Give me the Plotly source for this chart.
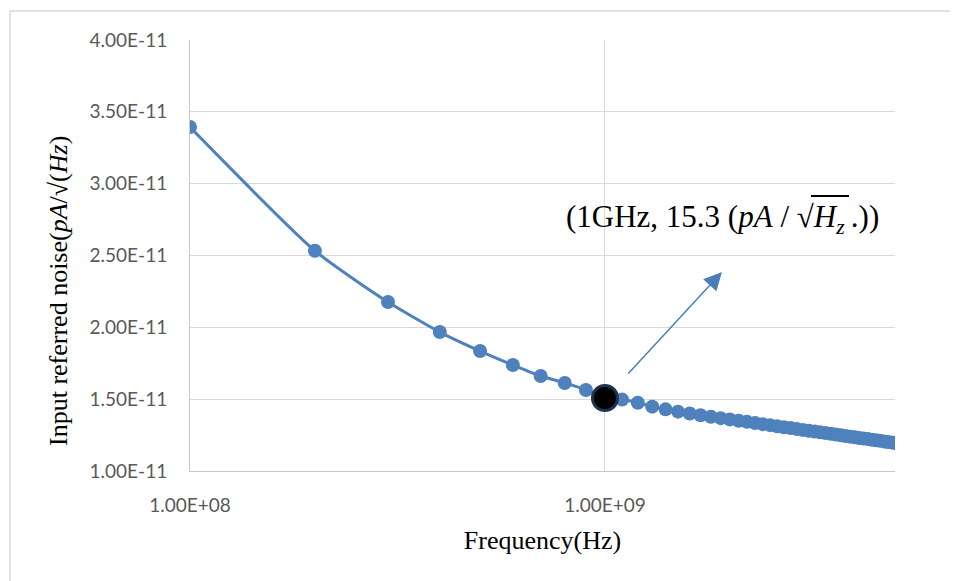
import plotly.graph_objects as go
import math

freq_hz = [1e8, 2e8, 3e8, 4e8, 5e8, 6e8, 7e8, 8e8, 9e8, 1.0e9,
           1.1e9, 1.2e9, 1.3e9, 1.4e9, 1.5e9, 1.6e9, 1.7e9, 1.8e9, 1.9e9, 2.0e9,
           2.1e9, 2.2e9, 2.3e9, 2.4e9, 2.5e9, 2.6e9, 2.7e9, 2.8e9, 2.9e9, 3.0e9,
           3.1e9, 3.2e9, 3.3e9, 3.4e9, 3.5e9, 3.6e9, 3.7e9, 3.8e9, 3.9e9, 4.0e9,
           4.1e9, 4.2e9, 4.3e9, 4.4e9, 4.5e9, 4.6e9, 4.7e9, 4.8e9, 4.9e9, 5.0e9]
noise = [3.394e-11, 2.533e-11, 2.176e-11, 1.967e-11, 1.835e-11, 1.738e-11, 1.661e-11, 1.613e-11, 1.564e-11, 1.508e-11,
         1.497e-11, 1.475e-11, 1.448e-11, 1.429e-11, 1.413e-11, 1.400e-11, 1.388e-11, 1.378e-11, 1.368e-11, 1.359e-11,
         1.350e-11, 1.342e-11, 1.334e-11, 1.326e-11, 1.319e-11, 1.312e-11, 1.305e-11, 1.299e-11, 1.292e-11, 1.286e-11,
         1.280e-11, 1.275e-11, 1.269e-11, 1.264e-11, 1.259e-11, 1.254e-11, 1.249e-11, 1.244e-11, 1.239e-11, 1.235e-11,
         1.230e-11, 1.226e-11, 1.222e-11, 1.218e-11, 1.214e-11, 1.210e-11, 1.206e-11, 1.202e-11, 1.199e-11, 1.195e-11]
highlight_f = [1.0e9]
highlight_v = [1.508e-11]
x_ticks = [1e8, 1e9]
x_tick_labels = ["1.00E+08", "1.00E+09"]
y_ticks = [1.0e-11, 1.5e-11, 2.0e-11, 2.5e-11, 3.0e-11, 3.5e-11, 4.0e-11]
y_tick_labels = ["1.00E-11", "1.50E-11", "2.00E-11", "2.50E-11", "3.00E-11", "3.50E-11", "4.00E-11"]

blue = "#4f81bd"
grid = "#d9d9d9"

fig = go.Figure()
fig.add_trace(go.Scatter(
    x=freq_hz, y=noise, mode="lines+markers",
    line=dict(color=blue, width=3, shape="spline", smoothing=0.6),
    marker=dict(color=blue, size=14),
    showlegend=False, hoverinfo="x+y"))
fig.add_trace(go.Scatter(
    x=highlight_f, y=highlight_v, mode="markers",
    marker=dict(color="#000000", size=25, line=dict(color="#1f3350", width=3)),
    showlegend=False))

serif = "Liberation Serif, Times New Roman, serif"
tickfont = dict(family="Lato, Open Sans, sans-serif", size=19, color="#595959")


def px(xp):
    return (xp - 190) / 705


def py(yp):
    return (471 - yp) / 431


# page has an 8px body offset; plot area should sit at x 190-895, y 40-471 in the window
L, T = 182, 32
fig.update_layout(
    width=958, height=581,
    margin=dict(l=L, r=958 - L - 705, t=T, b=581 - T - 431),
    paper_bgcolor="white", plot_bgcolor="white",
    xaxis=dict(type="log", range=[8, math.log10(5e9)],
               tickvals=x_ticks, ticktext=x_tick_labels,
               showgrid=True, gridcolor=grid, gridwidth=1,
               showline=True, linecolor="#c8c8c8", linewidth=1,
               zeroline=False, ticks="", tickfont=tickfont, ticklabelstandoff=17,
               title=dict(text="Frequency(Hz)", font=dict(family=serif, size=26, color="#000000"),
                          standoff=16)),
    yaxis=dict(range=[1.0e-11, 4.0e-11],
               tickvals=y_ticks, ticktext=y_tick_labels,
               showgrid=True, gridcolor=grid, gridwidth=1,
               showline=True, linecolor="#c8c8c8", linewidth=1,
               zeroline=False, ticks="", tickfont=tickfont, ticklabelstandoff=18),
)

# y-axis title (placed like the reference, slightly below centre)
fig.add_annotation(
    x=px(58), y=py(291), xref="paper", yref="paper",
    text="Input referred noise(<i>pA</i>/√(<i>Hz</i>)", textangle=-90,
    showarrow=False, font=dict(family=serif, size=26, color="#000000"),
    xanchor="center", yanchor="middle")

# arrow
fig.add_annotation(
    x=9.282, y=2.385e-11, xref="x", yref="y",
    ax=9.053, ay=1.668e-11, axref="x", ayref="y",
    text="", showarrow=True, arrowhead=2, arrowsize=2.4, arrowwidth=1.5,
    arrowcolor="#4a7ebb")

fig.add_annotation(
    x=px(722), y=py(219), xref="paper", yref="paper",
    text="(1GHz, 15.3 (<i>pA</i> / √<i>H<sub>z</sub></i>&#8201;.))",
    showarrow=False, font=dict(family=serif, size=31, color="#000000"),
    xanchor="center", yanchor="middle")

# radical overbar of the annotation
fig.add_shape(type="line", xref="paper", yref="paper",
              x0=px(811), x1=px(849), y0=py(196), y1=py(196),
              line=dict(color="#000000", width=2))

# outer chart border (left and top visible)
fig.add_shape(type="line", xref="paper", yref="paper",
              x0=px(10), x1=px(10), y0=py(11), y1=py(620),
              line=dict(color="#d9d9d9", width=1.5))
fig.add_shape(type="line", xref="paper", yref="paper",
              x0=px(10), x1=px(990), y0=py(11), y1=py(11),
              line=dict(color="#d9d9d9", width=1.5))

fig.write_html("out.html")
